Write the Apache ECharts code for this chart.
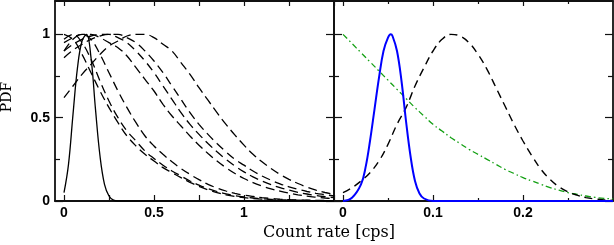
<!DOCTYPE html>
<html><head><meta charset="utf-8">
<script src="https://cdn.jsdelivr.net/npm/echarts@6/dist/echarts.min.js"></script>
<style>html,body{margin:0;padding:0;background:#fff}#c{width:614px;height:245px}</style>
</head><body><div id="c"></div>
<script>
// ---- data ----
var xLeft = [0,0.05,0.1,0.15,0.2,0.25,0.3,0.35,0.4,0.45,0.5,0.55,0.6,0.65,0.7,0.75,0.8,0.85,0.9,0.95,1.0,1.05,1.1,1.15,1.2,1.25,1.3,1.35,1.4,1.45,1.5];
var dashA = [0.62,0.69,0.76,0.82,0.88,0.93,0.96,0.99,1.0,1.0,0.98,0.94,0.9,0.83,0.76,0.68,0.605,0.53,0.46,0.395,0.335,0.28,0.235,0.195,0.16,0.13,0.105,0.083,0.065,0.051,0.04];
var dashB = [0.86,0.905,0.94,0.97,0.99,1.0,1.0,0.98,0.95,0.9,0.84,0.77,0.69,0.61,0.53,0.46,0.4,0.345,0.295,0.25,0.215,0.18,0.15,0.125,0.103,0.085,0.07,0.057,0.046,0.038,0.03];
var dashC = [0.9,0.94,0.97,0.99,1.0,1.0,0.98,0.95,0.9,0.84,0.77,0.69,0.61,0.53,0.46,0.4,0.345,0.295,0.25,0.21,0.175,0.145,0.12,0.098,0.08,0.065,0.052,0.042,0.033,0.026,0.02];
var dashD = [0.95,0.98,1.0,1.0,0.98,0.95,0.92,0.87,0.8,0.73,0.66,0.58,0.51,0.45,0.39,0.335,0.285,0.24,0.2,0.165,0.135,0.11,0.09,0.073,0.059,0.047,0.037,0.029,0.023,0.018,0.014];
var dashE = [0.9,0.97,1.0,0.97,0.88,0.77,0.66,0.56,0.47,0.39,0.33,0.28,0.235,0.195,0.16,0.128,0.1,0.078,0.06,0.046,0.035,0.027,0.02,0.015,0.011,0.008,0.006,0.005,0.004,0.003,0.002];
var dashF = [0.97,1.0,0.95,0.85,0.72,0.6,0.5,0.42,0.36,0.3,0.255,0.215,0.18,0.15,0.12,0.095,0.074,0.057,0.043,0.032,0.024,0.018,0.013,0.01,0.007,0.005,0.004,0.003,0.002,0.002,0.001];
var dashG = [1.0,0.97,0.88,0.77,0.66,0.56,0.47,0.39,0.33,0.28,0.24,0.2,0.17,0.14,0.112,0.088,0.067,0.05,0.037,0.027,0.02,0.015,0.011,0.008,0.006,0.005,0.004,0.003,0.002,0.002,0.001];
var xSolid = [0,0.025,0.05,0.075,0.1,0.125,0.15,0.175,0.2,0.225,0.25,0.275,0.3,0.4,0.8,1.5];
var ySolid = [0.05,0.22,0.52,0.8,0.96,1.0,0.86,0.55,0.27,0.1,0.03,0.005,0,0,0,0];

var xBlue = [0,0.01,0.02,0.025,0.03,0.035,0.04,0.045,0.05,0.053,0.055,0.06,0.065,0.07,0.075,0.08,0.085,0.09,0.1,0.2,0.3];
var yBlue = [0,0.02,0.1,0.2,0.36,0.55,0.74,0.9,0.98,1.0,0.99,0.9,0.72,0.48,0.27,0.12,0.045,0.015,0,0,0];
var xRight = [0,0.01,0.02,0.03,0.04,0.05,0.06,0.07,0.08,0.09,0.1,0.11,0.12,0.13,0.14,0.15,0.16,0.17,0.18,0.19,0.2,0.21,0.22,0.23,0.24,0.25,0.26,0.27,0.28,0.29,0.3];
var yBlackR = [0.05,0.08,0.12,0.17,0.24,0.34,0.46,0.56,0.69,0.8,0.9,0.97,1.0,0.99,0.95,0.88,0.79,0.68,0.57,0.46,0.36,0.27,0.19,0.13,0.085,0.055,0.035,0.02,0.012,0.007,0.004];
var yGreen = [1.0,0.945,0.89,0.835,0.78,0.725,0.67,0.615,0.56,0.51,0.46,0.42,0.38,0.345,0.31,0.28,0.25,0.22,0.19,0.165,0.14,0.12,0.1,0.08,0.065,0.05,0.04,0.03,0.022,0.016,0.012];

var leftTicks = [0,0.25,0.5,0.75,1,1.25,1.5];
var leftLabels = [0,0.5,1];
var rightMajor = [0,0.1,0.2];
var rightMinor = [0.05,0.15,0.25];
var rightLabels = [0,0.1,0.2];
var yMajor = [0,0.5,1];
var yMinor = [0.25,0.75];
var yLabels = [0,0.5,1];
var xTitle = 'Count rate [cps]';
var yTitle = 'PDF';

function pairs(xs, ys){ return xs.map(function(x,i){ return [x, ys[i]]; }); }

var AX = '#111';
var lab = {fontFamily:'Liberation Sans', fontWeight:'bold', fontSize:14, color:'#000'};
function fmt(v){ return String(+(+v).toFixed(2)); }
function xax(grid, pos, min, max, ticks, len, labels, line){
  return {type:'value', gridIndex:grid, position:pos, min:min, max:max,
    axisLine:{show:line, onZero:false, lineStyle:{color:AX, width:1.8}},
    axisTick:{show:true, inside:true, length:len, customValues:ticks, lineStyle:{color:AX, width:1.2}},
    axisLabel: labels ? Object.assign({show:true, margin:5, customValues:labels, formatter:fmt}, lab) : {show:false},
    splitLine:{show:false}};
}
function yax(grid, pos, ticks, len, labels, line){
  return {type:'value', gridIndex:grid, position:pos, min:0, max:1.2,
    axisLine:{show:line, onZero:false, lineStyle:{color:AX, width:1.8}},
    axisTick:{show:true, inside:true, length:len, customValues:ticks, lineStyle:{color:AX, width:1.2}},
    axisLabel: labels ? Object.assign({show:true, margin:5, customValues:labels, formatter:fmt}, lab) : {show:false},
    splitLine:{show:false}};
}
function dashed(data){
  return {type:'line', xAxisIndex:0, yAxisIndex:0, data:data, showSymbol:false, smooth:0.4, silent:true,
    lineStyle:{color:'#000', width:1.3, type:[9,5]}};
}

var chart = echarts.init(document.getElementById('c'), null, {renderer:'canvas'});
chart.setOption({
  animation:false,
  backgroundColor:'#fff',
  grid:[{left:55, top:1, width:279, height:200}, {left:334, top:1, width:279, height:200}],
  xAxis:[
    xax(0,'bottom',-0.05,1.5,leftTicks,6,leftLabels,true),
    xax(0,'top',-0.05,1.5,leftTicks,5,null,true),
    xax(1,'bottom',-0.01,0.3,rightMajor,6,rightLabels,true),
    xax(1,'top',-0.01,0.3,rightMajor,5,null,true),
    xax(1,'bottom',-0.01,0.3,rightMinor,3,null,false),
    xax(1,'top',-0.01,0.3,rightMinor,3,null,false)
  ],
  yAxis:[
    yax(0,'left',yMajor,8,yLabels,true),
    yax(0,'right',yMajor,8,null,true),
    yax(1,'left',yMajor,8,null,true),
    yax(1,'right',yMajor,8,null,true),
    yax(0,'left',yMinor,5,null,false),
    yax(0,'right',yMinor,5,null,false),
    yax(1,'left',yMinor,5,null,false),
    yax(1,'right',yMinor,5,null,false)
  ],
  series:[
    dashed(pairs(xLeft,dashA)), dashed(pairs(xLeft,dashB)), dashed(pairs(xLeft,dashC)),
    dashed(pairs(xLeft,dashD)), dashed(pairs(xLeft,dashE)), dashed(pairs(xLeft,dashF)),
    dashed(pairs(xLeft,dashG)),
    {type:'line', xAxisIndex:0, yAxisIndex:0, data:pairs(xSolid,ySolid), showSymbol:false, smooth:0.4, lineStyle:{color:'#000', width:1.3}},
    {type:'line', xAxisIndex:2, yAxisIndex:2, data:pairs(xRight,yGreen), showSymbol:false, smooth:0.4, lineStyle:{color:'#14a014', width:1.3, type:[6,3,1.5,3]}},
    {type:'line', xAxisIndex:2, yAxisIndex:2, data:pairs(xRight,yBlackR), showSymbol:false, smooth:0.4, lineStyle:{color:'#000', width:1.4, type:[8,5]}},
    {type:'line', xAxisIndex:2, yAxisIndex:2, data:pairs(xBlue,yBlue), showSymbol:false, smooth:0.4, lineStyle:{color:'#0000ff', width:2}}
  ],
  graphic:[
    {type:'text', x:329, y:225, style:{text:xTitle, font:'16px "DejaVu Serif"', fill:'#000', align:'center', verticalAlign:'top'}},
    {type:'text', x:0, y:97, rotation:Math.PI/2, style:{text:yTitle, font:'14px "DejaVu Serif"', fill:'#000', align:'center', verticalAlign:'top'}}
  ]
});
</script></body></html>
